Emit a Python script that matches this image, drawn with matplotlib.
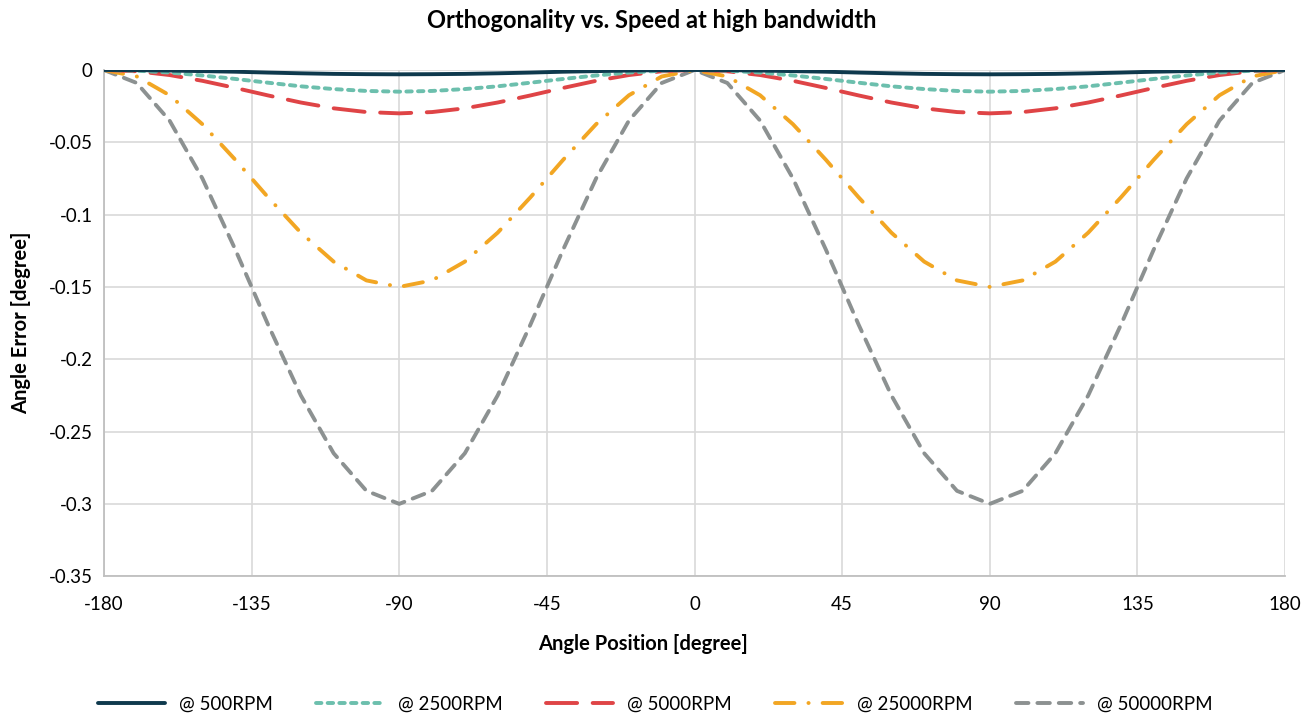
import matplotlib
matplotlib.use("Agg")
import matplotlib.pyplot as plt
from matplotlib.ticker import FuncFormatter

plt.rcParams['font.family'] = ['Lato', 'DejaVu Sans']
plt.rcParams['axes.unicode_minus'] = False

angles = [-180, -170, -160, -150, -140, -130, -120, -110, -100, -90,
          -80, -70, -60, -50, -40, -30, -20, -10, 0,
          10, 20, 30, 40, 50, 60, 70, 80, 90,
          100, 110, 120, 130, 140, 150, 160, 170, 180]

rpm500 = [0, -0.0001, -0.0004, -0.0008, -0.0012, -0.0018, -0.0023, -0.0027, -0.0029, -0.003,
          -0.0029, -0.0027, -0.0023, -0.0018, -0.0012, -0.0008, -0.0004, -0.0001, 0,
          -0.0001, -0.0004, -0.0008, -0.0012, -0.0018, -0.0023, -0.0027, -0.0029, -0.003,
          -0.0029, -0.0027, -0.0023, -0.0018, -0.0012, -0.0008, -0.0004, -0.0001, 0]

rpm2500 = [0, -0.0005, -0.0018, -0.0038, -0.0062, -0.0088, -0.0113, -0.0132, -0.0145, -0.015,
           -0.0145, -0.0132, -0.0113, -0.0088, -0.0062, -0.0038, -0.0018, -0.0005, 0,
           -0.0005, -0.0018, -0.0038, -0.0062, -0.0088, -0.0113, -0.0132, -0.0145, -0.015,
           -0.0145, -0.0132, -0.0113, -0.0088, -0.0062, -0.0038, -0.0018, -0.0005, 0]

rpm5000 = [0, -0.0009, -0.0035, -0.0075, -0.0124, -0.0176, -0.0225, -0.0265, -0.0291, -0.03,
           -0.0291, -0.0265, -0.0225, -0.0176, -0.0124, -0.0075, -0.0035, -0.0009, 0,
           -0.0009, -0.0035, -0.0075, -0.0124, -0.0176, -0.0225, -0.0265, -0.0291, -0.03,
           -0.0291, -0.0265, -0.0225, -0.0176, -0.0124, -0.0075, -0.0035, -0.0009, 0]

rpm25000 = [0, -0.0045, -0.0175, -0.0375, -0.062, -0.088, -0.1125, -0.1325, -0.1455, -0.15,
            -0.1455, -0.1325, -0.1125, -0.088, -0.062, -0.0375, -0.0175, -0.0045, 0,
            -0.0045, -0.0175, -0.0375, -0.062, -0.088, -0.1125, -0.1325, -0.1455, -0.15,
            -0.1455, -0.1325, -0.1125, -0.088, -0.062, -0.0375, -0.0175, -0.0045, 0]

rpm50000 = [0, -0.009, -0.035, -0.075, -0.124, -0.176, -0.225, -0.265, -0.291, -0.3,
            -0.291, -0.265, -0.225, -0.176, -0.124, -0.075, -0.035, -0.009, 0,
            -0.009, -0.035, -0.075, -0.124, -0.176, -0.225, -0.265, -0.291, -0.3,
            -0.291, -0.265, -0.225, -0.176, -0.124, -0.075, -0.035, -0.009, 0]

labels = ['@ 500RPM', '@ 2500RPM', '@ 5000RPM', '@ 25000RPM', '@ 50000RPM']
xticks = [-180, -135, -90, -45, 0, 45, 90, 135, 180]
yticks = [0, -0.05, -0.1, -0.15, -0.2, -0.25, -0.3, -0.35]

fig = plt.figure(figsize=(13.16, 7.14), dpi=100)
ax = fig.add_axes([0.079, 0.193, 0.8975, 0.709])

lw = 2.8
ax.plot(angles, rpm50000, color='#8C9191', lw=lw, dashes=(3.2, 2.3), dash_capstyle='round', label=labels[4], zorder=3)
ax.plot(angles, rpm25000, color='#F2A623', lw=lw, dashes=(5.0, 3.6, 0.05, 3.6), dash_capstyle='round', label=labels[3], zorder=4)
ax.plot(angles, rpm5000, color='#DF4446', lw=lw, dashes=(8.0, 4.0), dash_capstyle='round', label=labels[2], zorder=5)
ax.plot(angles, rpm2500, color='#6CBFAD', lw=lw, dashes=(1.4, 1.6), dash_capstyle='round', label=labels[1], zorder=6)
ax.plot(angles, rpm500, color='#0E394D', lw=lw, solid_capstyle='round', label=labels[0], zorder=7)

ax.set_xlim(-180, 180)
ax.set_ylim(-0.35, 0)
ax.set_xticks(xticks)
ax.set_yticks(yticks)
ax.yaxis.set_major_formatter(FuncFormatter(lambda v, p: ('%g' % round(v, 2))))
ax.grid(True, color='#D9D9D9', lw=1.2, zorder=0)
ax.set_axisbelow(True)
ax.tick_params(length=0, labelsize=13.5, colors='#000000')
ax.tick_params(axis='x', pad=14)
ax.tick_params(axis='y', pad=8)
for s in ['top', 'right']:
    ax.spines[s].set_visible(False)
for s in ['left', 'bottom']:
    ax.spines[s].set_color('#BFBFBF')
    ax.spines[s].set_linewidth(1.3)

fig.text(0.495, 0.971, 'Orthogonality vs. Speed at high bandwidth', ha='center', va='center',
         fontsize=17, fontweight='bold')
ax.set_xlabel('Angle Position [degree]', fontsize=14.5, fontweight='bold')
ax.xaxis.set_label_coords(0.456, -0.115)
ax.set_ylabel('Angle Error [degree]', fontsize=14.5, fontweight='bold')
ax.yaxis.set_label_coords(-0.062, 0.5)

handles, labs = ax.get_legend_handles_labels()
order = [4, 3, 2, 1, 0]
fig.legend([handles[i] for i in order], [labs[i] for i in order], loc='center',
           bbox_to_anchor=(0.498, 0.014), ncol=5, frameon=False, fontsize=13.5,
           handlelength=3.6, columnspacing=2.3, handletextpad=0.75)

fig.savefig('out.png', dpi=100)
